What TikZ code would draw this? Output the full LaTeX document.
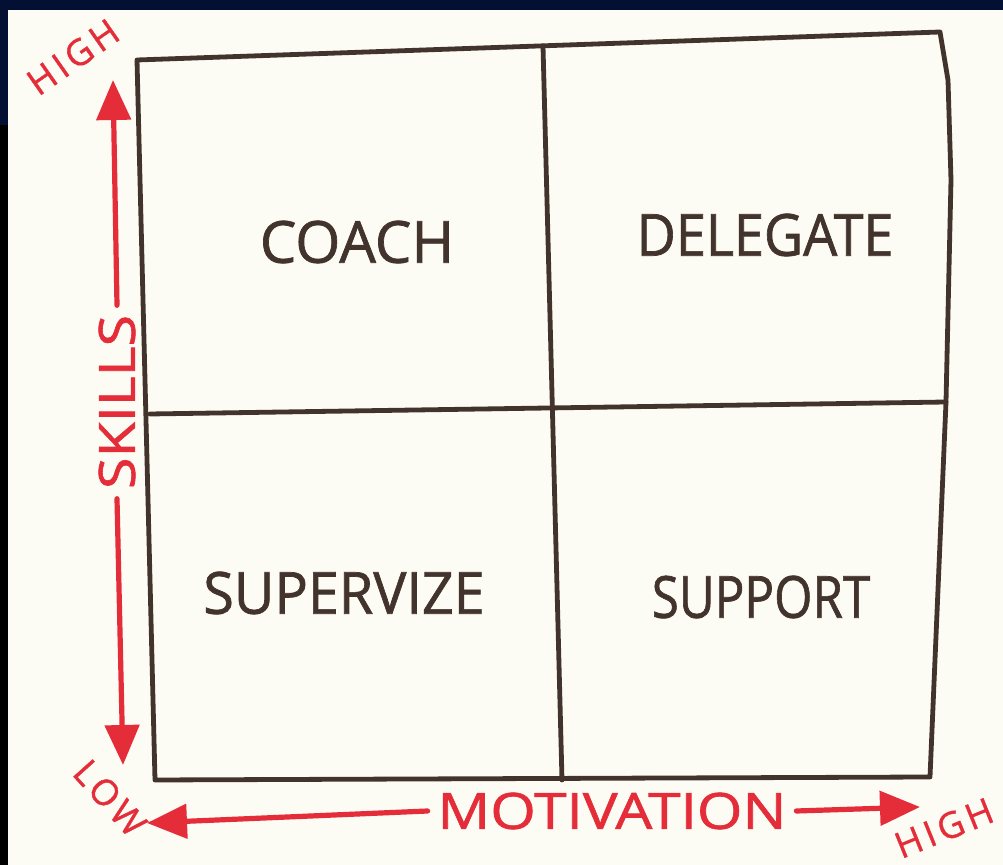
\documentclass[tikz,border=0pt]{standalone}
\usepackage{fontspec}
\setmainfont{Open Sans}
\usepackage{xcolor}
\usepackage{tikz}
\usetikzlibrary{positioning, arrows.meta}
\definecolor{paper}{RGB}{252,251,244}
\definecolor{ink}{RGB}{66,52,44}
\definecolor{pen}{RGB}{229,45,58}
\definecolor{frame}{RGB}{3,16,52}

\begin{document}
\begin{tikzpicture}[x=0.5pt, y=-0.5pt,
		grid/.style={draw=ink, line width=2.4pt, line join=round, line cap=round},
		quad/.style={text=ink, font=\fontsize{29}{30}\selectfont\addfontfeature{FakeBold=1.2}, inner sep=0pt},
		axis/.style={text=pen, font=\fontsize{25}{26}\selectfont\addfontfeature{FakeBold=1.2}, inner sep=4pt},
		end/.style={text=pen, font=\fontsize{18}{19}\selectfont\addfontfeature{LetterSpace=12,FakeBold=1}, inner sep=0pt},
		redarrow/.style={draw=pen, line width=2.6pt, line cap=round,
			-{Triangle[length=20pt, width=17pt]}}
		]
		\useasboundingbox (0,0) rectangle (1003,865);
		% draw photo background
		\fill[paper] (0,0) rectangle (1003,865);
		\fill[frame] (0,0) rectangle (1003,10);
		\fill[frame] (0,0) rectangle (8,125);
		\fill[black] (0,125) rectangle (8,865);
		
		% draw the matrix
		\coordinate (tl) at (137,60);
		\coordinate (tr) at (940,32);
		\coordinate (br) at (930,777);
		\coordinate (bl) at (155,780);
		\coordinate (ml) at (150,414);
		\coordinate (mr) at (946,402);
		\coordinate (mt) at (543,46);
		\coordinate (mb) at (562,780);
		\draw[grid] (tl) -- (tr) -- (948,80) -- (951,180) -- (mr) -- (br) -- (bl) -- cycle;
		\draw[grid] (ml) -- (mr);
		\draw[grid] (mt) -- (mb);
		
		% draw quadrant labels
		\foreach \lbl/\px/\py/\sx/\nm in {COACH/357/242/1/coach, DELEGATE/765/235/.93/delegate,
			SUPERVIZE/344/593/.96/supervize, SUPPORT/761/597/.85/support}
		\node[quad, xscale=\sx] (\nm) at (\px,\py) {\lbl};
		
		% draw skills axis
		\node[axis, rotate=90, xscale=1.15] (skills) at (117,402) {SKILLS};
		\coordinate (skillhi) at (113,80);
		\coordinate (skilllo) at (123,765);
		\draw[redarrow] (skills.east) -- (skillhi);
		\draw[redarrow] (skills.west) -- (skilllo);
		\node[end, rotate=35] (hi1) at (73,57) {HIGH};
		\node[end, rotate=-48] (lo1) at (110,798) {LOW};
		
		% draw motivation axis
		\node[axis, xscale=1.17] (motiv) at (612,811) {MOTIVATION};
		\coordinate (motlo) at (147,823);
		\coordinate (mothi) at (920,807);
		\draw[redarrow] (motiv.west) -- (motlo);
		\draw[redarrow] (motiv.east) -- (mothi);
		\node[end, rotate=22] (hi2) at (944,828) {HIGH};
		\end{tikzpicture}
\end{document}
